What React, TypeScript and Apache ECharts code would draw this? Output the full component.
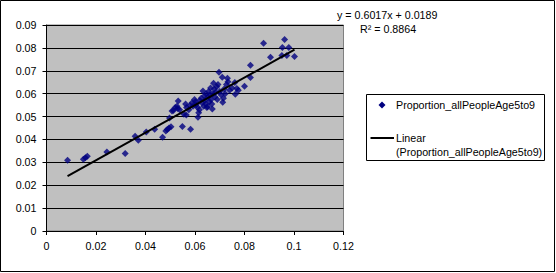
import React, { useEffect, useRef } from "react";
import * as echarts from "echarts";

const xValues = [
  0.0085, 0.0149, 0.0157, 0.0165, 0.0244, 0.0318, 0.0358, 0.0371, 0.0403, 0.0437,
  0.0469, 0.0482, 0.0488, 0.0495, 0.0503, 0.0497, 0.0507, 0.0513, 0.052, 0.0527,
  0.0532, 0.053, 0.0538, 0.0549, 0.0582, 0.0555, 0.0565, 0.0562, 0.0566, 0.0575,
  0.058, 0.0588, 0.0592, 0.0598, 0.0602, 0.0605, 0.061, 0.0612, 0.0615, 0.0618,
  0.062, 0.0625, 0.0628, 0.0632, 0.0635, 0.0638, 0.064, 0.0643, 0.0645, 0.0648,
  0.0651, 0.0653, 0.0655, 0.0658, 0.066, 0.0663, 0.0665, 0.0668, 0.067, 0.0672,
  0.0675, 0.0678, 0.068, 0.0683, 0.0688, 0.069, 0.0693, 0.0697, 0.07, 0.0705,
  0.071, 0.0712, 0.0715, 0.0718, 0.0722, 0.0727, 0.0731, 0.0733, 0.074, 0.075,
  0.0761, 0.0763, 0.0769, 0.0775, 0.08, 0.0824, 0.0824, 0.0877, 0.0905, 0.0951,
  0.0953, 0.0962, 0.0971, 0.0979, 0.1002,
];
const yValues = [
  0.0309, 0.0314, 0.032, 0.0327, 0.0345, 0.0339, 0.0414, 0.0396, 0.0432, 0.0445,
  0.041, 0.0437, 0.0443, 0.045, 0.0456, 0.0494, 0.0524, 0.0527, 0.054, 0.0545,
  0.0568, 0.0535, 0.053, 0.0457, 0.0444, 0.051, 0.0507, 0.0555, 0.054, 0.053,
  0.0548, 0.056, 0.0545, 0.0575, 0.0565, 0.0552, 0.054, 0.0497, 0.0517, 0.053,
  0.057, 0.058, 0.056, 0.0612, 0.0545, 0.059, 0.057, 0.0555, 0.06, 0.054,
  0.0543, 0.0585, 0.061, 0.0565, 0.0595, 0.0625, 0.0575, 0.0555, 0.0533, 0.06,
  0.0645, 0.062, 0.0585, 0.0605, 0.063, 0.0575, 0.064, 0.0694, 0.061, 0.0595,
  0.0672, 0.0562, 0.058, 0.062, 0.06, 0.064, 0.0667, 0.0652, 0.0615, 0.0625,
  0.0649, 0.0597, 0.0623, 0.0615, 0.0632, 0.0724, 0.0671, 0.082, 0.0759, 0.0767,
  0.0802, 0.0837, 0.0767, 0.0802, 0.0762,
];

const SERIES_NAME = "Proportion_allPeopleAge5to9";
const TREND_NAME = "Linear (Proportion_allPeopleAge5to9)";
const SLOPE = 0.6017;
const INTERCEPT = 0.0189;
const R_SQUARED = 0.8864;

const X_TICK_LABELS = ["0", "0.02", "0.04", "0.06", "0.08", "0.1", "0.12"];
const Y_TICK_LABELS = ["0", "0.01", "0.02", "0.03", "0.04", "0.05", "0.06", "0.07", "0.08", "0.09"];

const FONT = "'Liberation Sans', Arial, sans-serif";
const FS = 10.7;

export default function App() {
  const ref = useRef<HTMLDivElement>(null);

  useEffect(() => {
    if (!ref.current) return;
    const chart = echarts.init(ref.current, null, { renderer: "svg" });
    const pts = xValues.map((x, i) => [x, yValues[i]]);
    const xmin = Math.min(...xValues);
    const xmax = Math.max(...xValues);
    const trend = [
      [xmin, SLOPE * xmin + INTERCEPT],
      [xmax, SLOPE * xmax + INTERCEPT],
    ];

    chart.setOption({
      animation: false,
      backgroundColor: "#ffffff",
      textStyle: { fontFamily: FONT },
      grid: {
        left: 46.5,
        top: 25,
        width: 297,
        height: 206,
        show: true,
        backgroundColor: "#C0C0C0",
        borderColor: "#808080",
        borderWidth: 1,
      },
      xAxis: {
        type: "value",
        min: 0,
        max: 0.12,
        interval: 0.02,
        axisLine: { show: true, onZero: false, lineStyle: { color: "#000", width: 1 } },
        axisTick: { show: true, inside: false, length: 4, lineStyle: { color: "#000" } },
        splitLine: { show: false },
        axisLabel: {
          color: "#000",
          fontSize: FS,
          fontFamily: FONT,
          margin: 9,
          formatter: (v: number) => X_TICK_LABELS[Math.round(v / 0.02)] ?? String(v),
        },
      },
      yAxis: {
        type: "value",
        min: 0,
        max: 0.09,
        interval: 0.01,
        axisLine: { show: true, onZero: false, lineStyle: { color: "#000", width: 1 } },
        axisTick: { show: true, inside: false, length: 4, lineStyle: { color: "#000" } },
        splitLine: { show: true, lineStyle: { color: "#000", width: 1 } },
        axisLabel: {
          color: "#000",
          fontSize: FS,
          fontFamily: FONT,
          margin: 10,
          formatter: (v: number) => Y_TICK_LABELS[Math.round(v / 0.01)] ?? String(v),
        },
      },
      series: [
        {
          name: SERIES_NAME,
          type: "scatter",
          data: pts,
          symbol: "diamond",
          symbolSize: 7,
          itemStyle: { color: "#000080" },
          z: 2,
        },
        {
          name: TREND_NAME,
          type: "line",
          data: trend,
          symbol: "none",
          lineStyle: { color: "#000", width: 2 },
          z: 3,
        },
      ],
      graphic: [
        {
          type: "rect",
          shape: { x: 0.5, y: 0.5, width: 554, height: 271 },
          style: { fill: "none", stroke: "#000", lineWidth: 1 },
          silent: true,
        },
        {
          type: "text",
          left: 337,
          top: 9,
          style: { text: `y = ${SLOPE}x + ${INTERCEPT}`, fill: "#000", font: `${FS}px ${FONT}` },
        },
        {
          type: "text",
          left: 360,
          top: 23,
          style: { text: `R² = ${R_SQUARED}`, fill: "#000", font: `${FS}px ${FONT}` },
        },
        {
          type: "rect",
          shape: { x: 366.5, y: 94.5, width: 178, height: 66 },
          style: { fill: "#fff", stroke: "#000", lineWidth: 1 },
        },
        {
          type: "polygon",
          shape: { points: [[382, 101.5], [385.5, 105], [382, 108.5], [378.5, 105]] },
          style: { fill: "#000080" },
        },
        {
          type: "text",
          left: 396,
          top: 99,
          style: { text: SERIES_NAME, fill: "#000", font: `${FS}px ${FONT}` },
        },
        {
          type: "line",
          shape: { x1: 370.5, y1: 138, x2: 394, y2: 138 },
          style: { stroke: "#000", lineWidth: 2 },
        },
        {
          type: "text",
          left: 396,
          top: 132,
          style: { text: "Linear", fill: "#000", font: `${FS}px ${FONT}` },
        },
        {
          type: "text",
          left: 396,
          top: 146,
          style: { text: "(Proportion_allPeopleAge5to9)", fill: "#000", font: `${FS}px ${FONT}` },
        },
      ],
    });
    return () => chart.dispose();
  }, []);

  return (
    <div
      ref={ref}
      style={{ position: "absolute", left: 0, top: 0, width: 556, height: 273, background: "#fff" }}
    />
  );
}
